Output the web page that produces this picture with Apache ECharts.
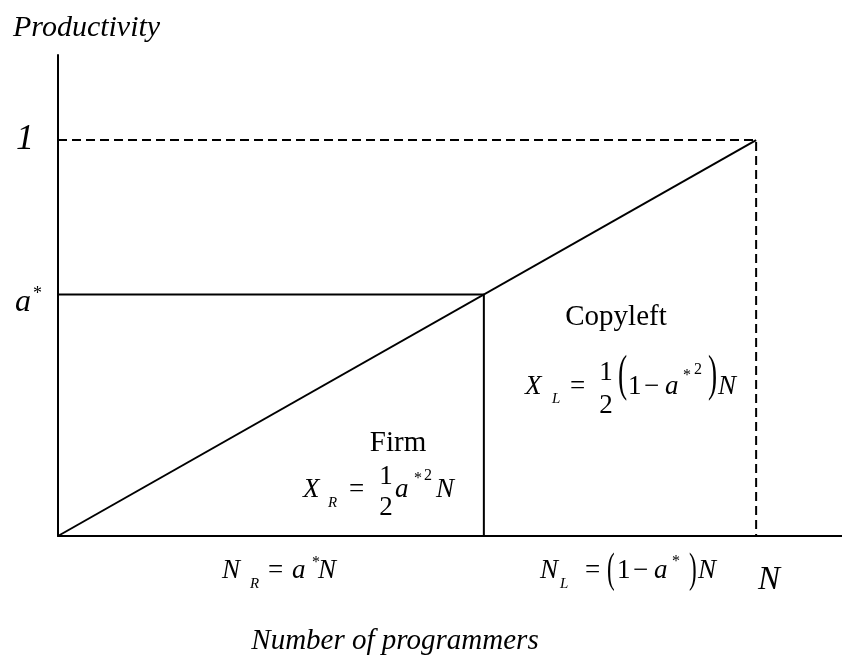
<!DOCTYPE html>
<html>
<head>
<meta charset="utf-8">
<script src="https://cdn.jsdelivr.net/npm/echarts@6/dist/echarts.min.js"></script>
<style>
  html, body { margin: 0; padding: 0; background: #fff; }
  #chart { width: 842px; height: 662px; }
</style>
</head>
<body>
<div id="chart"></div>
<script>
// share of programmers at the firm (a*), N normalised to 1
var aStar = 0.61;
var diagonalX = [0, 1];
var diagonalY = [0, 1];
var firmBoxX = [0, aStar, aStar];
var firmBoxY = [aStar, aStar, 0];
var totalBoxX = [0, 1, 1];
var totalBoxY = [1, 1, 0];

function pairs(xs, ys) {
  return xs.map(function (x, i) { return [x, ys[i]]; });
}

var serif = '"Liberation Serif", "DejaVu Serif", serif';

// one text piece; y is the vertical middle
function t(text, x, y, size, italic, align) {
  return {
    type: 'text',
    style: {
      text: text,
      x: x,
      y: y,
      font: (italic ? 'italic ' : '') + size + 'px ' + serif,
      fill: '#000',
      align: align || 'left',
      verticalAlign: 'middle'
    }
  };
}

// tall thin bracket
function paren(ch, x, yTop, h) {
  return {
    type: 'text',
    x: x,
    y: yTop,
    scaleX: 0.55,
    style: {
      text: ch,
      x: 0,
      y: 0,
      font: h + 'px ' + serif,
      fill: '#000',
      align: 'left',
      verticalAlign: 'top'
    }
  };
}

var texts = [
  t('Productivity', 13, 28, 30, true),
  t('1', 25, 140, 36, true, 'center'),
  t('a', 15, 303, 32, true),
  t('*', 33, 294, 18, false),
  t('Number of programmers', 395, 641, 29, true, 'center'),
  t('N', 758, 580, 33, true),

  // Firm
  t('Firm', 398, 443, 29, false, 'center'),
  t('X', 303, 490, 27, true),
  t('R', 328, 503, 15, true),
  t('=', 349, 490, 27, false),
  t('1', 386, 477, 27, false, 'center'),
  t('2', 386, 508, 27, false, 'center'),
  t('a', 395, 490, 27, true),
  t('*', 414, 479, 16, false),
  t('2', 424, 476, 16, false),
  t('N', 436, 490, 27, true),

  // Copyleft
  t('Copyleft', 616, 317, 29, false, 'center'),
  t('X', 525, 387, 27, true),
  t('L', 552, 399, 15, true),
  t('=', 570, 387, 27, false),
  t('1', 606, 373, 27, false, 'center'),
  t('2', 606, 406, 27, false, 'center'),
  paren('(', 618, 352, 50),
  t('1', 628, 387, 27, false),
  t('\u2212', 644, 387, 27, false),
  t('a', 665, 387, 27, true),
  t('*', 683, 376, 16, false),
  t('2', 694, 370, 16, false),
  paren(')', 708, 352, 50),
  t('N', 718, 387, 27, true),

  // N_R
  t('N', 222, 571, 27, true),
  t('R', 250, 584, 15, true),
  t('=', 268, 571, 27, false),
  t('a', 292, 571, 27, true),
  t('*', 312, 563, 16, false),
  t('N', 318, 571, 27, true),

  // N_L
  t('N', 540, 571, 27, true),
  t('L', 560, 584, 15, true),
  t('=', 585, 571, 27, false),
  paren('(', 607, 550, 42),
  t('1', 617, 571, 27, false),
  t('\u2212', 633, 571, 27, false),
  t('a', 654, 571, 27, true),
  t('*', 672, 562, 16, false),
  paren(')', 689, 550, 42),
  t('N', 698, 571, 27, true)
];

var chart = echarts.init(document.getElementById('chart'));

chart.setOption({
  animation: false,
  backgroundColor: '#fff',
  grid: { left: 58, top: 55, width: 784, height: 481 },
  xAxis: {
    type: 'value',
    min: 0,
    max: 1.123,
    axisLine: { show: true, onZero: false, lineStyle: { color: '#000', width: 2 } },
    axisTick: { show: false },
    axisLabel: { show: false },
    splitLine: { show: false }
  },
  yAxis: {
    type: 'value',
    min: 0,
    max: 1.215,
    axisLine: { show: true, onZero: false, lineStyle: { color: '#000', width: 2 } },
    axisTick: { show: false },
    axisLabel: { show: false },
    splitLine: { show: false }
  },
  series: [
    {
      name: 'diagonal',
      type: 'line',
      data: pairs(diagonalX, diagonalY),
      symbol: 'none',
      lineStyle: { color: '#000', width: 2 }
    },
    {
      name: 'firm',
      type: 'line',
      data: pairs(firmBoxX, firmBoxY),
      symbol: 'none',
      lineStyle: { color: '#000', width: 2 }
    },
    {
      name: 'total',
      type: 'line',
      data: pairs(totalBoxX, totalBoxY),
      symbol: 'none',
      lineStyle: { color: '#000', width: 2, type: [9, 5] }
    }
  ],
  graphic: texts
});
</script>
</body>
</html>
